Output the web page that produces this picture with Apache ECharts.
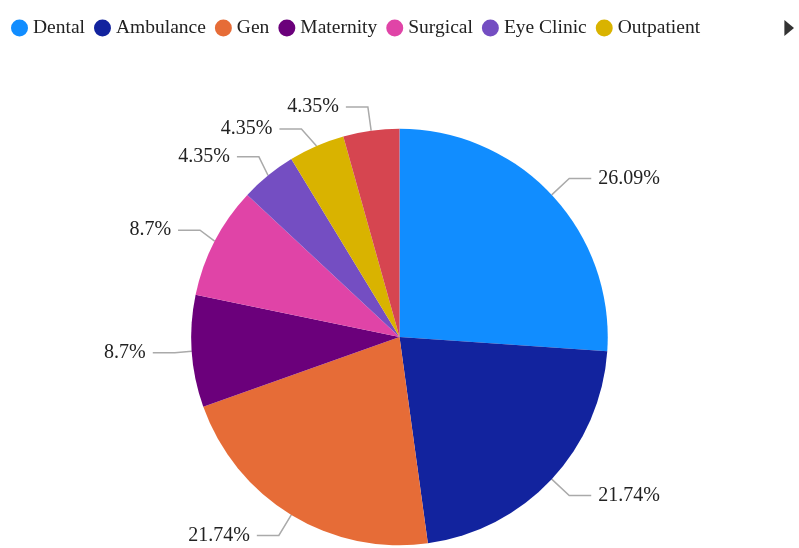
<!DOCTYPE html>
<html>
<head>
<meta charset="utf-8">
<script src="https://cdn.jsdelivr.net/npm/echarts@6/dist/echarts.min.js"></script>
<style>
  html, body { margin: 0; padding: 0; background: #fff; }
  #chart { width: 799px; height: 548px; }
</style>
</head>
<body>
<div id="chart"></div>
<script>
// 科室 / 数量
const categories = ['Dental', 'Ambulance', 'Gen', 'Maternity', 'Surgical', 'Eye Clinic', 'Outpatient', 'Pharmacy']
const counts = [6, 5, 5, 2, 2, 1, 1, 1]
const colors = ['#118DFF', '#12239E', '#E66C37', '#6B007B', '#E044A7', '#744EC2', '#D9B300', '#D64550']

const total = counts.reduce((a, b) => a + b, 0)
const fontFamily = '"Liberation Serif", "DejaVu Serif", serif'

const chart = echarts.init(document.getElementById('chart'))

const option = {
  color: colors,
  legend: {
    type: 'scroll',
    left: 6,
    right: 8,
    top: 13,
    icon: 'circle',
    itemWidth: 17,
    itemHeight: 17,
    itemGap: 9,
    textStyle: { fontFamily, fontSize: 19.5, color: '#222' },
    pageFormatter: '{current}/{total}',
    pageTextStyle: { color: 'rgba(0,0,0,0)', fontSize: 12 },
    pageIconColor: '#333',
    pageIconInactiveColor: 'rgba(0,0,0,0)',
    pageIconSize: 16,
    pageButtonItemGap: 10,
    pageButtonGap: 19,
    data: categories
  },
  series: [
    {
      type: 'pie',
      center: ['50%', '61.5%'],
      radius: '76%',
      startAngle: 90,
      clockwise: true,
      data: categories.map((name, i) => ({ name, value: counts[i] })),
      label: {
        show: true,
        position: 'outside',
        fontFamily,
        fontSize: 20,
        color: '#222',
        distanceToLabelLine: 7,
        formatter: (p) => (Math.round(p.value / total * 10000) / 100) + '%'
      },
      labelLine: {
        show: true,
        length: 24,
        length2: 22,
        lineStyle: { color: '#aaa', width: 1.5 }
      },
      itemStyle: { borderWidth: 0 },
      emphasis: { disabled: true }
    }
  ]
}

chart.setOption(option, true)
</script>
</body>
</html>
